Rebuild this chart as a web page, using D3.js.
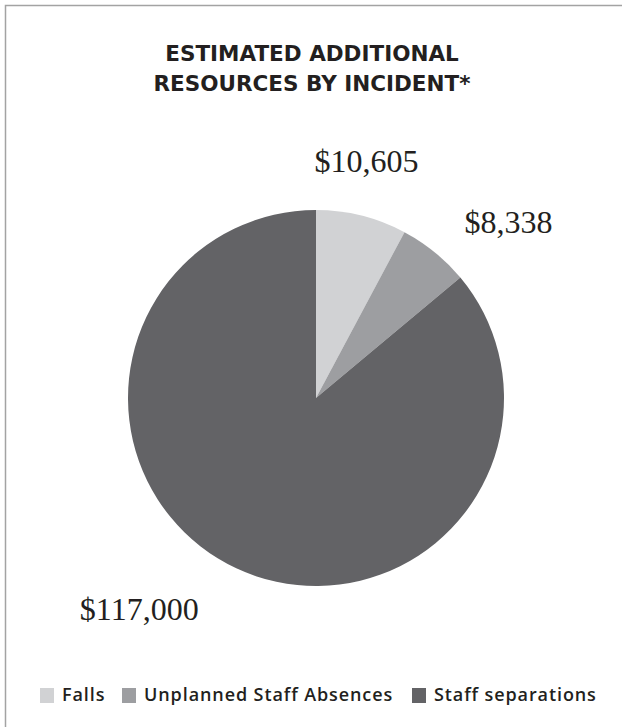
<!DOCTYPE html>
<html>
<head>
<meta charset="utf-8">
<script src="https://cdn.jsdelivr.net/npm/d3@7"></script>
<style>
  body { margin: 0; background: #fff; }
</style>
</head>
<body>
<script>
// data
var categories = ["Falls", "Unplanned Staff Absences", "Staff separations"];
var values = [10605, 8338, 117000];
var valueLabels = ["$10,605", "$8,338", "$117,000"];
var colors = ["#d1d2d4", "#9d9ea1", "#636366"];
var titleLines = ["ESTIMATED ADDITIONAL", "RESOURCES BY INCIDENT*"];

var svgWidth = 622;
var svgHeight = 727;

var svg = d3.select("body")
    .append("svg")
    .attr("width", svgWidth)
    .attr("height", svgHeight);

// frame: top and left rule only
svg.append("path")
    .attr("d", "M5.5,727 V5.5 H622")
    .attr("fill", "none")
    .attr("stroke", "#a3a3a3")
    .attr("stroke-width", 1.5);

// title
svg.append("g").selectAll("text")
    .data(titleLines)
    .enter()
    .append("text")
    .attr("x", 312)
    .attr("y", (d, i) => 61 + i * 29.5)
    .attr("text-anchor", "middle")
    .style("font-family", "'DejaVu Sans', sans-serif")
    .style("font-weight", 700)
    .style("font-size", "21.5px")
    .style("fill", "#231f20")
    .text(d => d);

// pie
var cx = 316, cy = 398, radius = 188;

var pie = d3.pie().sort(null).value(d => d);
var arc = d3.arc().innerRadius(0).outerRadius(radius);
var arcs = pie(values);

var pieGroup = svg.append("g")
    .attr("transform", `translate(${cx}, ${cy})`);

pieGroup.selectAll("path")
    .data(arcs)
    .enter()
    .append("path")
    .attr("d", arc)
    .attr("fill", (d, i) => colors[i]);

// value labels, placed along a ray per slice
var labelRay = [
    { angle: 12, r: 243 },
    { angle: 47.5, r: 261 },
    { angle: 220, r: 275 }
];

pieGroup.selectAll("text")
    .data(arcs)
    .enter()
    .append("text")
    .attr("x", (d, i) => labelRay[i].r * Math.sin(labelRay[i].angle * Math.PI / 180))
    .attr("y", (d, i) => -labelRay[i].r * Math.cos(labelRay[i].angle * Math.PI / 180))
    .attr("dy", "0.35em")
    .attr("text-anchor", "middle")
    .style("font-family", "'Liberation Serif', serif")
    .style("font-size", "32px")
    .style("fill", "#231f20")
    .text((d, i) => valueLabels[i]);

// legend
var legendX = [40, 122, 412];
var legend = svg.append("g")
    .attr("transform", "translate(0, 695)");

var items = legend.selectAll("g")
    .data(categories)
    .enter()
    .append("g")
    .attr("transform", (d, i) => `translate(${legendX[i]}, 0)`);

items.append("rect")
    .attr("x", 0)
    .attr("y", -7)
    .attr("width", 14)
    .attr("height", 15)
    .attr("fill", (d, i) => colors[i]);

items.append("text")
    .attr("x", 22)
    .attr("y", 0)
    .attr("dy", "0.35em")
    .style("font-family", "'Open Sans', sans-serif")
    .style("font-weight", 600)
    .style("font-size", "18px")
    .style("letter-spacing", "0.9px")
    .style("fill", "#231f20")
    .text(d => d);
</script>
</body>
</html>
